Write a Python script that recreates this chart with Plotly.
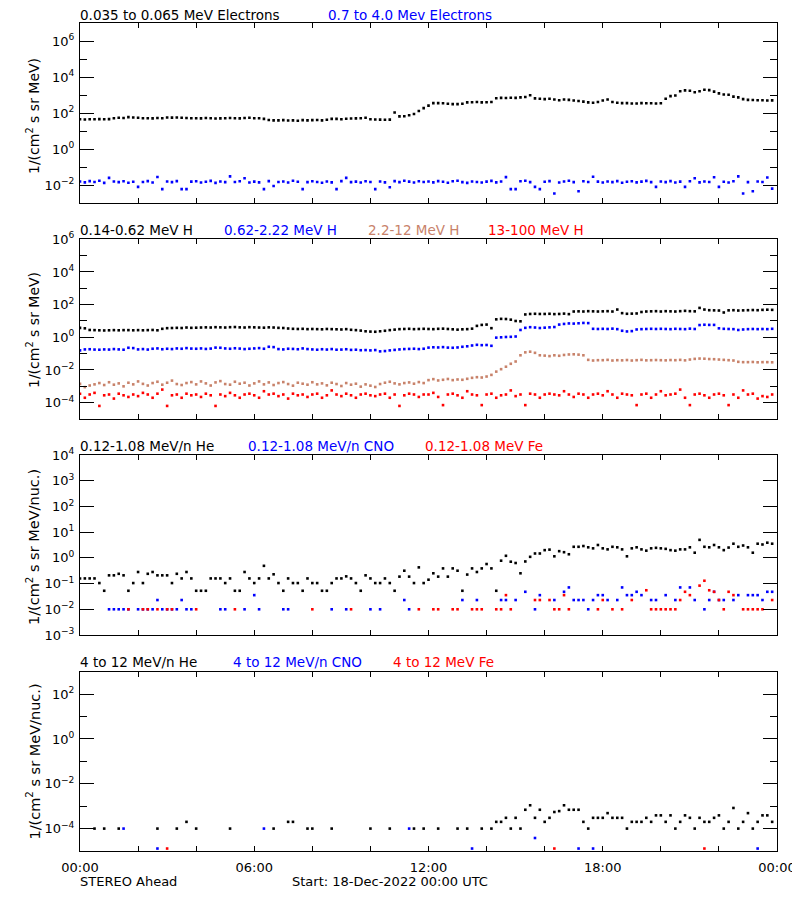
import numpy as np
import pandas as pd
import plotly.graph_objects as go

_ = None  # missing sample (no counts)

# 10-minute samples, 18-Dec-2022 00:00 .. 23:50 UTC
start_time = "2022-12-18 00:00"
n_samples = 144
sample_freq = "10min"

# ---------------- Panel 1: electrons (log10 flux) ----------------
e_low_log = [
    1.66, 1.65, 1.66, 1.66, 1.67, 1.66, 1.67, 1.72, 1.74, 1.73, 1.78, 1.76,
    1.74, 1.72, 1.72, 1.71, 1.73, 1.72, 1.76, 1.75, 1.76, 1.74, 1.73, 1.72,
    1.72, 1.71, 1.73, 1.72, 1.70, 1.71, 1.72, 1.73, 1.72, 1.71, 1.73, 1.74,
    1.72, 1.72, 1.68, 1.62, 1.60, 1.60, 1.61, 1.59, 1.60, 1.58, 1.61, 1.60,
    1.61, 1.62, 1.60, 1.63, 1.68, 1.68, 1.66, 1.69, 1.70, 1.71, 1.72, 1.74,
    1.66, 1.65, 1.64, 1.63, 1.64, 2.04, 1.82, 1.83, 1.88, 1.95, 2.12, 2.28,
    2.42, 2.56, 2.56, 2.55, 2.52, 2.50, 2.50, 2.52, 2.60, 2.61, 2.62, 2.60,
    2.61, 2.62, 2.83, 2.85, 2.84, 2.86, 2.85, 2.88, 2.90, 3.00, 2.82, 2.80,
    2.78, 2.80, 2.76, 2.72, 2.76, 2.74, 2.70, 2.68, 2.64, 2.60, 2.58, 2.62,
    2.70, 2.76, 2.62, 2.58, 2.56, 2.56, 2.54, 2.54, 2.56, 2.55, 2.55, 2.54,
    2.55, 2.80, 2.95, 2.98, 3.22, 3.27, 3.25, 3.16, 3.22, 3.30, 3.28, 3.20,
    3.10, 3.04, 3.02, 2.92, 2.88, 2.78, 2.74, 2.73, 2.72, 2.72, 2.70, 2.71,
]
e_high_log = [
    -1.80, -1.85, -1.78, -1.83, -1.76, -1.88, -1.60, -1.80, -1.84, -1.79, -1.87, -1.82,
    -2.10, -1.83, -1.78, -1.86, -1.55, -2.23, -1.80, -1.84, -1.78, -2.23, -2.23, -1.81,
    -1.79, -1.86, -1.82, -1.77, -1.88, -1.80, -1.84, -1.52, -1.83, -1.79, -1.62, -1.86,
    -1.81, -1.85, -2.23, -1.78, -2.05, -1.83, -1.80, -1.86, -1.76, -1.82, -2.23, -1.84,
    -1.79, -1.83, -1.87, -1.80, -1.85, -2.23, -1.78, -1.60, -1.84, -1.81, -1.86, -1.79,
    -1.83, -2.23, -1.80, -1.85, -2.12, -1.78, -1.84, -1.76, -1.81, -1.86, -1.79, -1.83,
    -1.80, -1.85, -1.78, -1.82, -1.87, -1.79, -1.76, -1.84, -1.88, -1.80, -1.83, -1.86,
    -1.81, -1.77, -1.85, -1.80, -1.56, -2.23, -2.23, -1.79, -1.76, -1.84, -2.10, -2.23,
    -1.82, -1.78, -2.47, -1.86, -1.80, -1.76, -1.84, -2.35, -1.79, -1.83, -1.54, -1.81,
    -1.86, -1.80, -1.84, -1.78, -1.87, -1.82, -1.79, -1.85, -1.81, -1.77, -1.84, -2.10,
    -1.80, -1.84, -1.78, -1.86, -1.81, -2.10, -1.79, -1.62, -1.85, -1.80, -1.83, -1.57,
    -2.10, -1.82, -1.86, -1.79, -1.52, -2.47, -1.84, -2.35, -1.80, -1.83, -1.58, -2.20,
]

# ---------------- Panel 2: protons (log10 flux) ----------------
h1_log = [
    0.58, 0.55, 0.45, 0.44, 0.43, 0.42, 0.43, 0.44, 0.43, 0.44, 0.44, 0.43,
    0.44, 0.43, 0.44, 0.45, 0.43, 0.52, 0.56, 0.57, 0.58, 0.57, 0.60, 0.58,
    0.59, 0.60, 0.61, 0.60, 0.62, 0.61, 0.60, 0.62, 0.63, 0.61, 0.60, 0.62,
    0.61, 0.60, 0.59, 0.61, 0.60, 0.58, 0.57, 0.54, 0.52, 0.51, 0.52, 0.50,
    0.51, 0.50, 0.49, 0.51, 0.50, 0.49, 0.48, 0.50, 0.46, 0.44, 0.41, 0.37,
    0.35, 0.34, 0.37, 0.40, 0.44, 0.47, 0.50, 0.51, 0.52, 0.50, 0.51, 0.52,
    0.51, 0.50, 0.52, 0.53, 0.51, 0.49, 0.47, 0.49, 0.50, 0.53, 0.70, 0.76,
    0.78, 0.56, 1.10, 1.13, 1.12, 1.08, 1.00, 0.98, 1.40, 1.43, 1.44, 1.43,
    1.43, 1.44, 1.42, 1.43, 1.45, 1.42, 1.58, 1.59, 1.58, 1.60, 1.59, 1.58,
    1.59, 1.60, 1.58, 1.70, 1.48, 1.44, 1.45, 1.46, 1.55, 1.58, 1.59, 1.60,
    1.58, 1.60, 1.59, 1.58, 1.60, 1.62, 1.60, 1.59, 1.80, 1.70, 1.66, 1.65,
    1.64, 1.52, 1.65, 1.66, 1.64, 1.65, 1.66, 1.67, 1.66, 1.68, 1.69, 1.68,
]
h2_log = [
    -0.80, -0.74, -0.73, -0.75, -0.76, -0.74, -0.75, -0.72, -0.74, -0.76, -0.64, -0.66,
    -0.74, -0.72, -0.75, -0.70, -0.68, -0.73, -0.70, -0.72, -0.68, -0.70, -0.66, -0.69,
    -0.70, -0.68, -0.71, -0.69, -0.63, -0.64, -0.68, -0.70, -0.67, -0.69, -0.72, -0.70,
    -0.68, -0.66, -0.70, -0.58, -0.60, -0.72, -0.74, -0.70, -0.71, -0.73, -0.68, -0.72,
    -0.74, -0.76, -0.73, -0.75, -0.72, -0.76, -0.75, -0.73, -0.77, -0.76, -0.79, -0.78,
    -0.80, -0.78, -0.86, -0.84, -0.80, -0.77, -0.74, -0.72, -0.71, -0.70, -0.72, -0.70,
    -0.63, -0.61, -0.62, -0.60, -0.63, -0.64, -0.62, -0.58, -0.55, -0.50, -0.46, -0.48,
    -0.47, -0.52, -0.02, 0.00, 0.02, 0.03, 0.05, 0.45, 0.58, 0.62, 0.60, 0.57,
    0.59, 0.61, 0.63, 0.78, 0.82, 0.85, 0.84, 0.86, 0.88, 0.87, 0.52, 0.51,
    0.52, 0.51, 0.53, 0.50, 0.40, 0.36, 0.38, 0.48, 0.50, 0.51, 0.52, 0.51,
    0.52, 0.51, 0.50, 0.52, 0.51, 0.50, 0.53, 0.51, 0.75, 0.77, 0.76, 0.76,
    0.55, 0.52, 0.51, 0.50, 0.45, 0.48, 0.50, 0.51, 0.50, 0.51, 0.50, 0.52,
]
h3_log = [
    -2.85, -3.05, -2.95, -2.88, -2.80, -2.92, -2.75, -2.90, -2.82, -3.00, -2.78, -2.88,
    -2.70, -2.85, -2.95, -2.80, -2.72, -2.90, -2.78, -2.65, -2.86, -2.92, -2.80, -2.74,
    -2.88, -2.70, -2.82, -2.95, -2.76, -2.68, -2.86, -2.90, -2.72, -2.84, -2.78, -2.95,
    -2.82, -2.70, -2.88, -2.76, -2.92, -2.80, -2.74, -2.86, -2.96, -2.78, -2.84, -2.90,
    -2.75, -2.88, -2.82, -2.94, -2.78, -2.86, -2.98, -2.80, -2.90, -2.84, -3.02, -2.88,
    -2.96, -3.04, -2.86, -2.78, -2.72, -2.82, -2.88, -2.80, -2.76, -2.84, -2.74, -2.80,
    -2.62, -2.56, -2.64, -2.60, -2.55, -2.62, -2.58, -2.60, -2.54, -2.48, -2.44, -2.46,
    -2.40, -2.30, -2.10, -1.95, -1.80, -1.62, -1.48, -1.10, -0.92, -0.88, -0.95, -1.10,
    -1.12, -1.15, -1.10, -1.13, -1.08, -1.05, -1.04, -1.06, -1.10, -1.38, -1.42, -1.40,
    -1.40, -1.38, -1.42, -1.40, -1.41, -1.39, -1.42, -1.40, -1.38, -1.41, -1.40, -1.39,
    -1.40, -1.41, -1.39, -1.40, -1.38, -1.41, -1.36, -1.32, -1.30, -1.31, -1.33, -1.34,
    -1.36, -1.38, -1.40, -1.42, -1.50, -1.52, -1.52, -1.51, -1.53, -1.52, -1.52, -1.53,
]
h4_log = [
    -3.45, -3.70, -3.50, -3.40, -4.20, -3.55, -3.50, -3.75, -3.45, -3.55, -3.65, -3.50,
    -3.60, -3.40, -3.50, -3.70, -3.45, -3.20, -4.20, -3.55, -3.50, -3.70, -3.45, -3.55,
    -3.50, -3.65, -3.45, -3.55, -4.20, -3.50, -3.60, -3.40, -3.55, -3.70, -3.50, -3.45,
    -3.55, -3.70, -3.30, -3.50, -3.45, -3.60, -3.50, -3.75, -3.45, -3.55, -3.50, -3.65,
    -3.50, -3.45, -3.70, -3.55, -3.25, -3.50, -3.60, -3.45, -3.55, -3.70, -3.50, -3.45,
    -3.55, -3.60, -3.50, -3.45, -3.70, -3.50, -4.20, -3.55, -3.45, -3.50, -3.65, -3.50,
    -3.50, -3.40, -3.65, -4.15, -3.50, -3.45, -3.55, -3.70, -3.30, -3.50, -3.55, -4.15,
    -3.50, -3.45, -3.70, -3.55, -3.50, -3.25, -3.60, -3.50, -4.15, -3.45, -3.50, -3.70,
    -3.50, -3.45, -3.50, -3.55, -3.30, -3.50, -3.65, -3.45, -3.50, -3.70, -3.50, -3.45,
    -3.55, -3.30, -3.50, -3.70, -3.45, -3.50, -3.55, -4.15, -3.50, -3.45, -3.70, -3.50,
    -3.30, -3.55, -3.50, -3.45, -3.20, -3.70, -4.15, -3.50, -3.45, -3.55, -3.70, -3.50,
    -3.45, -3.55, -4.15, -3.50, -3.70, -3.25, -3.50, -3.45, -3.75, -3.60, -3.65, -3.50,
]

# ---------------- Panel 3: 0.12-1.08 MeV/n ions (log10 flux) ----------------
he_low_log = [
    -0.80, -0.80, -0.80, -0.80, -0.98, -1.28, -0.68, -0.68, -0.62, -0.68, -1.28, -0.98,
    -0.55, -0.98, -0.62, -0.55, -0.68, -0.68, -0.68, -0.98, -0.62, -0.80, -0.55, -0.80,
    -1.28, -1.28, -1.28, -0.80, -0.80, -0.80, -0.98, -0.80, -1.28, -1.28, -0.55, -0.80,
    -0.98, -0.80, -0.31, -0.80, -0.64, -0.98, -1.28, -0.80, -0.98, -0.98, -1.28, -0.80,
    -0.98, -0.98, -1.28, -1.28, -0.98, -0.80, -0.80, -0.72, -0.80, -0.98, -1.28, -0.68,
    -0.80, -0.98, -0.98, -0.80, -0.98, -1.28, -0.73, -0.50, -0.73, -0.98, -0.37, -0.98,
    -0.85, -0.60, -0.73, -0.41, -0.73, -0.41, -0.50, -1.28, -0.65, -0.41, -0.55, -0.41,
    -0.24, -0.41, -1.28, -0.11, 0.08, -0.15, -0.20, -0.60, -0.14, 0.04, 0.17, 0.17,
    0.30, 0.32, 0.06, 0.26, 0.22, 0.14, 0.43, 0.43, 0.46, 0.41, 0.37, 0.50,
    0.37, 0.33, 0.43, 0.41, 0.33, 0.06, 0.37, 0.41, 0.33, 0.28, 0.37, 0.39,
    0.37, 0.35, 0.30, 0.28, 0.33, 0.33, 0.41, 0.20, 0.70, 0.43, 0.41, 0.50,
    0.41, 0.30, 0.40, 0.55, 0.43, 0.48, 0.41, 0.20, 0.55, 0.52, 0.59, 0.55,
]
cno_low_log = [
    _, _, _, _, _, _, -2, -2, -2, -2, -2, _,
    -2, -2, -2, -2, -1.64, -2, -2, -2, -2, -1.64, -2, -2,
    _, _, _, _, _, -2, -2, _, _, _, -2, _,
    -1.45, -2, _, _, _, _, -2, -2, _, _, _, _,
    _, _, _, _, -2, _, _, -2, _, _, _, _,
    -2, _, -2, _, _, _, _, -1.64, -2, _, _, _,
    _, _, _, _, _, _, _, -1.64, _, _, -1.64, _,
    _, _, _, -1.64, -1.64, _, -1.64, _, -1.32, _, -2, -1.45,
    _, _, -1.64, _, -1.32, -1.15, -1.64, -1.64, -1.64, -2, -1.64, -1.45,
    -1.45, -1.64, _, -1.64, -1.15, -1.45, -1.45, -1.32, -1.45, _, -1.64, -1.64,
    _, -1.45, _, -1.64, -1.15, _, -1.15, -1.64, _, -2, -1.64, -1.32,
    -1.64, -1.64, _, -1.64, -1.45, _, -1.45, -1.45, -1.45, -1.64, -1.32, -1.32,
]
fe_low_log = [
    _, _, _, _, _, _, _, _, _, _, -2, _,
    _, -2, -2, _, -2, _, -2, -2, _, _, _, _,
    -2, _, _, _, _, _, _, _, -2, _, _, _,
    _, _, _, _, _, _, _, _, _, _, _, _,
    -2, _, _, _, _, _, _, _, -2, _, _, _,
    _, _, _, _, _, _, _, _, _, _, -2, _,
    _, -2, -2, _, _, -2, -2, _, _, -2, -2, -2,
    _, _, -2, -2, -1.45, -2, _, _, _, _, -1.64, -1.64,
    _, -1.64, -2, -2, -1.45, -2, _, _, _, _, _, -2,
    -1.64, _, -2, _, -2, _, -1.64, _, _, -1.26, -2, -2,
    -2, -2, -2, -2, -1.64, -1.32, -1.45, _, -1.08, -0.89, -1.26, -1.32,
    -1.64, -2, -1.32, -1.45, _, -2, -2, -2, -2, -2, _, -1.64,
]

# ---------------- Panel 4: 4-12 MeV/n ions (log10 flux) ----------------
he_high_log = [
    _, _, _, -4, _, -4, _, _, -4, _, _, _,
    _, _, _, _, -4, _, _, _, -4, _, -3.7, _,
    -4, _, _, _, _, _, _, -4, _, _, _, _,
    _, _, _, _, -4, _, _, -3.7, -3.7, _, _, -4,
    -4, _, _, _, -4, _, _, _, _, _, _, _,
    -4, _, _, _, -4, _, _, _, _, -4, _, -4,
    _, _, -4, _, _, _, -4, _, -4, _, _, -4,
    _, -4, -3.7, -3.7, -3.52, -4, -3.52, -4, -3.16, -2.96, -3.52, -3.16,
    -3.7, -3.52, -3.26, -3.22, -2.96, -3.16, -3.16, -3.16, -3.7, -4, -3.52, -3.52,
    -3.52, -3.31, -3.52, -3.52, -3.52, -4, -3.7, -3.7, -3.7, -3.52, -3.7, -3.41,
    -3.41, -3.7, -3.41, -4, -3.7, -3.41, -3.52, -4, -3.52, -3.7, -3.7, -3.52,
    -3.41, -4, -3.7, -3.08, -4, -3.7, -3.31, -4, -3.7, -3.41, -3.41, -3.7,
]
cno_high_log = [
    _, _, _, _, _, _, _, _, _, -4, _, _,
    _, _, _, _, -4.89, _, _, _, _, _, _, _,
    _, _, _, _, _, _, _, _, _, _, _, _,
    _, _, -4, _, _, _, _, _, _, _, _, _,
    _, _, _, _, _, _, _, _, _, _, _, _,
    _, _, _, _, _, _, _, _, -4, _, _, _,
    _, _, _, _, _, _, _, _, _, -4.89, _, _,
    _, _, _, _, _, _, _, _, _, _, -4.42, _,
    _, _, _, _, _, _, _, -4.89, _, _, -4.89, _,
    _, _, _, _, _, _, _, _, _, _, _, _,
    _, _, _, _, _, _, _, _, _, _, _, _,
    _, _, _, _, _, _, _, _, -4.89, _, _, _,
]
fe_high_log = [
    _, _, _, _, _, _, _, _, _, _, _, _,
    _, _, _, _, _, _, -4.89, _, _, _, _, _,
    _, _, _, _, _, _, _, _, _, _, _, _,
    _, _, _, _, _, _, _, _, _, _, _, _,
    _, _, _, _, _, _, _, _, _, _, _, _,
    _, _, _, _, _, _, _, _, _, _, _, _,
    _, _, _, _, _, _, _, _, _, _, _, _,
    _, _, _, _, _, _, _, _, _, _, _, _,
    _, _, -4.89, _, _, _, _, _, _, _, _, _,
    _, _, _, _, _, _, _, _, _, _, _, _,
    _, _, _, _, _, _, _, _, _, -4.89, _, _,
    _, _, _, _, _, _, _, _, _, _, _, _,
]

# ---------------- labels ----------------
panel_titles = [
    [("0.035 to 0.065 MeV Electrons", "black"), ("0.7 to 4.0 Mev Electrons", "blue")],
    [("0.14-0.62 MeV H", "black"), ("0.62-2.22 MeV H", "blue"),
     ("2.2-12 MeV H", "brown"), ("13-100 MeV H", "red")],
    [("0.12-1.08 MeV/n He", "black"), ("0.12-1.08 MeV/n CNO", "blue"),
     ("0.12-1.08 MeV Fe", "red")],
    [("4 to 12 MeV/n He", "black"), ("4 to 12 MeV/n CNO", "blue"),
     ("4 to 12 MeV Fe", "red")],
]
y_titles = ["1/(cm<sup>2</sup> s sr MeV)", "1/(cm<sup>2</sup> s sr MeV)",
            "1/(cm<sup>2</sup> s sr MeV/nuc.)", "1/(cm<sup>2</sup> s sr MeV/nuc.)"]
time_tick_labels = ["00:00", "", "", "06:00", "", "", "12:00", "", "", "18:00", "", "", "00:00"]
footer_left = "STEREO Ahead"
footer_mid = "Start: 18-Dec-2022 00:00 UTC"

# ---------------- styling / geometry ----------------
# the page body adds an 8px margin, so the figure is 792x892 and page
# coordinates are shifted by OFF
OFF = 8
W, H = 792, 892
COLORS = {"black": "black", "blue": "#0000FF", "brown": "#C8826A", "red": "#FF0000"}
FONT = "DejaVu Sans"
x_left, x_right = 80, 777
panel_px = [(23.3, 203.0), (239.3, 419.0), (455.0, 635.0), (671.7, 851.0)]
title_y = [15, 230, 446, 662]
title_x = [[80, 328], [80, 224, 368, 488], [80, 248, 425], [80, 233, 393]]
ytitle_center = [116, 330, 547, 761.5]
ytitle_size = [14, 14, 14.5, 14.5]
y_ranges = [(-3, 7), (-5, 6), (-3, 4), (-5, 3)]
y_major = [[6, 4, 2, 0, -2], [6, 4, 2, 0, -2, -4], [4, 3, 2, 1, 0, -1, -2, -3], [2, 0, -2, -4]]
y_minor = [[5, 3, 1, -1], [5, 3, 1, -1, -3], [], [1, -1, -3]]


def px(x):
    return (x - OFF) / W


def py(y):
    return 1 - (y - OFF) / H


series = [
    [(e_low_log, "black"), (e_high_log, "blue")],
    [(h1_log, "black"), (h2_log, "blue"), (h3_log, "brown"), (h4_log, "red")],
    [(he_low_log, "black"), (cno_low_log, "blue"), (fe_low_log, "red")],
    [(he_high_log, "black"), (cno_high_log, "blue"), (fe_high_log, "red")],
]

times = pd.date_range(start_time, periods=n_samples, freq=sample_freq)
t0 = pd.Timestamp(start_time)
t1 = t0 + pd.Timedelta(hours=24)
tick_times = [t0 + pd.Timedelta(hours=2 * k) for k in range(13)]


def to_flux(vals):
    arr = np.array(vals, dtype=float)
    assert arr.size == n_samples, (arr.size)
    return np.power(10.0, arr)


def sup(k):
    return "10<sup>%s</sup>" % (str(k).replace("-", "\u2212"))


fig = go.Figure()
annotations = []
layout_axes = {}

for p in range(4):
    xa = "x" if p == 0 else "x%d" % (p + 1)
    ya = "y" if p == 0 else "y%d" % (p + 1)
    for vals, cname in series[p]:
        fig.add_trace(go.Scatter(
            x=times, y=to_flux(vals), mode="markers", xaxis=xa, yaxis=ya,
            marker=dict(symbol="square", size=2.6, color=COLORS[cname], line=dict(width=0)),
            showlegend=False, hoverinfo="skip"))

    top, bot = panel_px[p]
    ydom = [py(bot), py(top)]
    xkey = "xaxis" if p == 0 else "xaxis%d" % (p + 1)
    ykey = "yaxis" if p == 0 else "yaxis%d" % (p + 1)
    layout_axes[xkey] = dict(
        domain=[px(x_left), px(x_right)], anchor=ya, type="date", automargin=False,
        range=[t0, t1], showgrid=False, zeroline=False,
        showline=True, linecolor="black", linewidth=1, mirror="allticks",
        ticks="inside", ticklen=5, tickwidth=1, tickcolor="black",
        tickmode="array", tickvals=tick_times, ticktext=time_tick_labels,
        showticklabels=(p == 3), tickfont=dict(family=FONT, size=13, color="black"),
        ticklabelstandoff=4,
    )
    lo, hi = y_ranges[p]
    layout_axes[ykey] = dict(
        domain=ydom, anchor=xa, type="log", range=[lo, hi], automargin=False,
        showgrid=False, zeroline=False,
        showline=True, linecolor="black", linewidth=1, mirror="allticks",
        ticks="inside", ticklen=14, tickwidth=1, tickcolor="black",
        tickmode="array", tickvals=[10.0 ** k for k in y_major[p]],
        ticktext=[sup(k) for k in y_major[p]],
        tickfont=dict(family=FONT, size=13, color="black"),
        ticklabelstandoff=2,
        minor=dict(ticks="inside", ticklen=7, tickwidth=1, tickcolor="black",
                   tickmode="array", tickvals=[10.0 ** k for k in y_minor[p]],
                   showgrid=False),
    )

    for (txt, cname), xpos in zip(panel_titles[p], title_x[p]):
        annotations.append(dict(
            text=txt, xref="paper", yref="paper", x=px(xpos - 1), y=py(title_y[p]),
            xanchor="left", yanchor="middle", showarrow=False, borderpad=0,
            font=dict(family=FONT, size=13.5, color=COLORS[cname])))
    annotations.append(dict(
        text=y_titles[p], xref="paper", yref="paper", x=px(33), y=py(ytitle_center[p]),
        xanchor="center", yanchor="middle", showarrow=False, textangle=-90,
        font=dict(family=FONT, size=ytitle_size[p], color="black")))

annotations.append(dict(text=footer_left, xref="paper", yref="paper", x=px(79), y=py(881),
                        xanchor="left", yanchor="middle", showarrow=False, borderpad=0,
                        font=dict(family=FONT, size=13, color="black")))
annotations.append(dict(text=footer_mid, xref="paper", yref="paper", x=px(291), y=py(881),
                        xanchor="left", yanchor="middle", showarrow=False, borderpad=0,
                        font=dict(family=FONT, size=13, color="black")))

fig.update_layout(
    width=W, height=H, margin=dict(l=0, r=0, t=0, b=0, autoexpand=False),
    paper_bgcolor="white", plot_bgcolor="white",
    font=dict(family=FONT, size=13, color="black"),
    annotations=annotations, showlegend=False,
    **layout_axes,
)

fig.write_html("out.html")
